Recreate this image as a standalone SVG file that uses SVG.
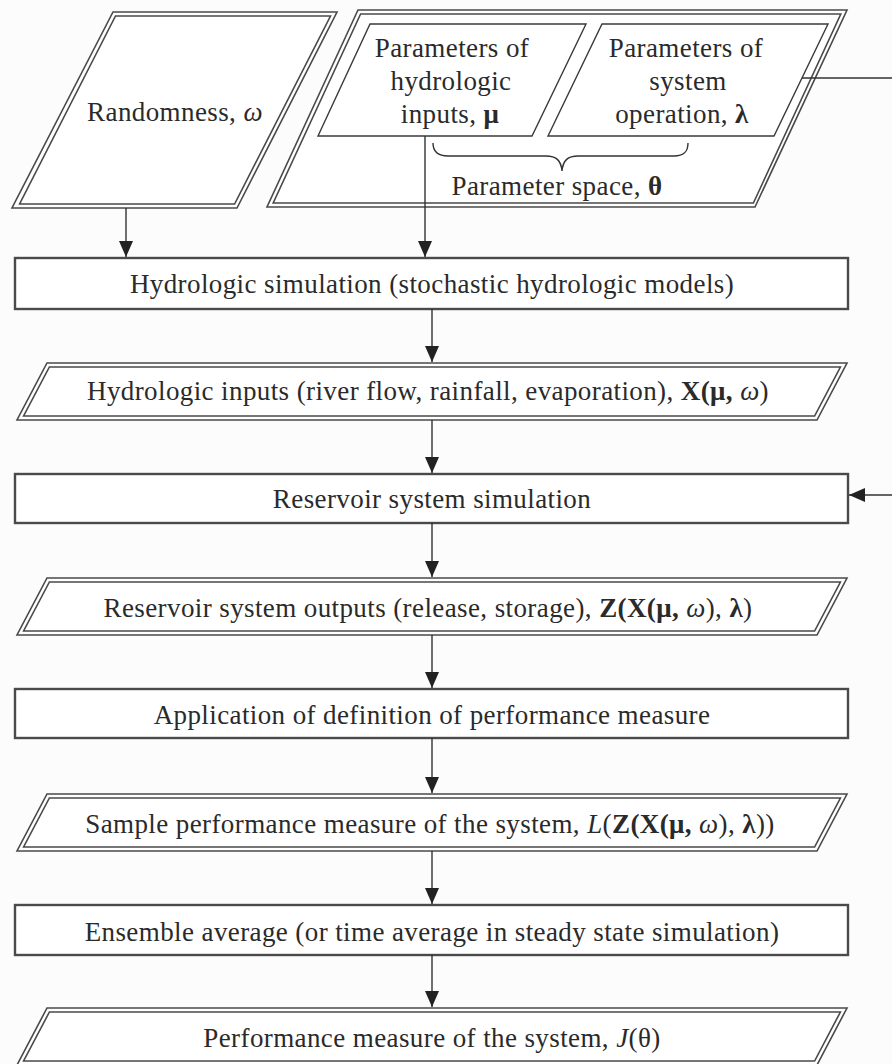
<svg xmlns="http://www.w3.org/2000/svg" width="892" height="1064" viewBox="0 0 892 1064">
<defs>
<style>
.bg{fill:#fcfcfc}
.box{fill:#ffffff;stroke:#4a4a4a;stroke-width:2.4}
.po{fill:#ffffff;stroke:#4a4a4a;stroke-width:1.6}
.pi{fill:none;stroke:#4a4a4a;stroke-width:1.6}
.ps{fill:none;stroke:#3a3a3a;stroke-width:1.4}
.t{font-family:"Liberation Serif","Times New Roman",serif;font-size:27px;letter-spacing:0.4px;fill:#2a2a2a;text-anchor:middle}
.b{font-weight:bold}
.i{font-style:italic}
.c{fill:none;stroke:#333333;stroke-width:1.4}
</style>
<marker id="ah" markerUnits="userSpaceOnUse" markerWidth="16" markerHeight="14" refX="16" refY="7" orient="auto">
<path d="M0,0 L16,7 L0,14 z" fill="#222222"/>
</marker>
</defs>
<rect class="bg" x="0" y="0" width="892" height="1064"/>

<g id="randomness">
<polygon class="po" points="113,12 337,12 237,208 12,208"/>
<polygon class="pi" points="115.5,16 330.5,16 234.6,204 19.6,204"/>
<text class="t" x="175" y="121">Randomness, <tspan class="i">ω</tspan></text>
</g>

<g id="parameter-space">
<polygon class="po" points="358,10 847,10 755,207 267,207"/>
<polygon class="pi" points="360.6,14 840.8,14 753.4,203 273.2,203"/>
<path class="c" d="M433,143 C433,152 438,156 448,156 L546,156 C556,156 561,160 562,171 C563,160 568,156 578,156 L674,156 C684,156 688,152 688,143"/>
<text class="t" x="557" y="195">Parameter space, <tspan class="b">θ</tspan></text>
</g>

<g id="hydro-params">
<polygon class="ps" points="370,24 586,24 532,136 318,136"/>
<text class="t" x="452" y="57">Parameters of</text>
<text class="t" x="451" y="90">hydrologic</text>
<text class="t" x="450" y="123">inputs, <tspan class="b">μ</tspan></text>
</g>

<g id="operation-params">
<polygon class="ps" points="602,24 828,24 774,136 548,136"/>
<text class="t" x="686" y="57">Parameters of</text>
<text class="t" x="688" y="90">system</text>
<text class="t" x="682" y="123">operation, <tspan class="b">λ</tspan></text>
</g>

<g id="hydro-sim">
<rect class="box" x="15" y="258" width="833" height="51"/>
<text class="t" x="432" y="293">Hydrologic simulation (stochastic hydrologic models)</text>
</g>

<g id="hydro-inputs" transform="translate(0,363)">
<polygon class="po" points="47,0 847,0 817,57 17,57"/>
<polygon class="pi" points="49.4,4 840.4,4 814.6,53 23.6,53"/>
<text class="t" x="428" y="37">Hydrologic inputs (river flow, rainfall, evaporation), <tspan class="b">X(μ,</tspan> <tspan class="i">ω</tspan>)</text>
</g>

<g id="reservoir-sim">
<rect class="box" x="15" y="474" width="833" height="49"/>
<text class="t" x="432" y="508">Reservoir system simulation</text>
</g>

<g id="reservoir-outputs" transform="translate(0,578)">
<polygon class="po" points="47,0 847,0 817,57 17,57"/>
<polygon class="pi" points="49.4,4 840.4,4 814.6,53 23.6,53"/>
<text class="t" x="428" y="39">Reservoir system outputs (release, storage), <tspan class="b">Z(X(μ,</tspan> <tspan class="i">ω</tspan>), <tspan class="b">λ</tspan>)</text>
</g>

<g id="application">
<rect class="box" x="15" y="689" width="833" height="49"/>
<text class="t" x="432" y="724">Application of definition of performance measure</text>
</g>

<g id="sample-measure" transform="translate(0,794)">
<polygon class="po" points="47,0 847,0 817,57 17,57"/>
<polygon class="pi" points="49.4,4 840.4,4 814.6,53 23.6,53"/>
<text class="t" x="430" y="39">Sample performance measure of the system, <tspan class="i">L</tspan>(<tspan class="b">Z(X(μ,</tspan> <tspan class="i">ω</tspan>), <tspan class="b">λ</tspan>))</text>
</g>

<g id="ensemble">
<rect class="box" x="15" y="905" width="833" height="50"/>
<text class="t" x="432" y="941">Ensemble average (or time average in steady state simulation)</text>
</g>

<g id="performance" transform="translate(0,1008)">
<polygon class="po" points="47,0 847,0 817,57 17,57"/>
<polygon class="pi" points="49.4,4 840.4,4 814.6,53 23.6,53"/>
<text class="t" x="432" y="39">Performance measure of the system, <tspan class="i">J</tspan>(θ)</text>
</g>

<g id="connectors">
<path class="c" d="M126,208 V257" marker-end="url(#ah)"/>
<path class="c" d="M425,136 V257" marker-end="url(#ah)"/>
<path class="c" d="M432,309 V362" marker-end="url(#ah)"/>
<path class="c" d="M432,420 V473" marker-end="url(#ah)"/>
<path class="c" d="M432,523 V577" marker-end="url(#ah)"/>
<path class="c" d="M432,635 V688" marker-end="url(#ah)"/>
<path class="c" d="M432,738 V793" marker-end="url(#ah)"/>
<path class="c" d="M432,851 V904" marker-end="url(#ah)"/>
<path class="c" d="M432,955 V1007" marker-end="url(#ah)"/>
<path class="c" d="M802,78 H896 V495 H849" marker-end="url(#ah)"/>
</g>
</svg>
